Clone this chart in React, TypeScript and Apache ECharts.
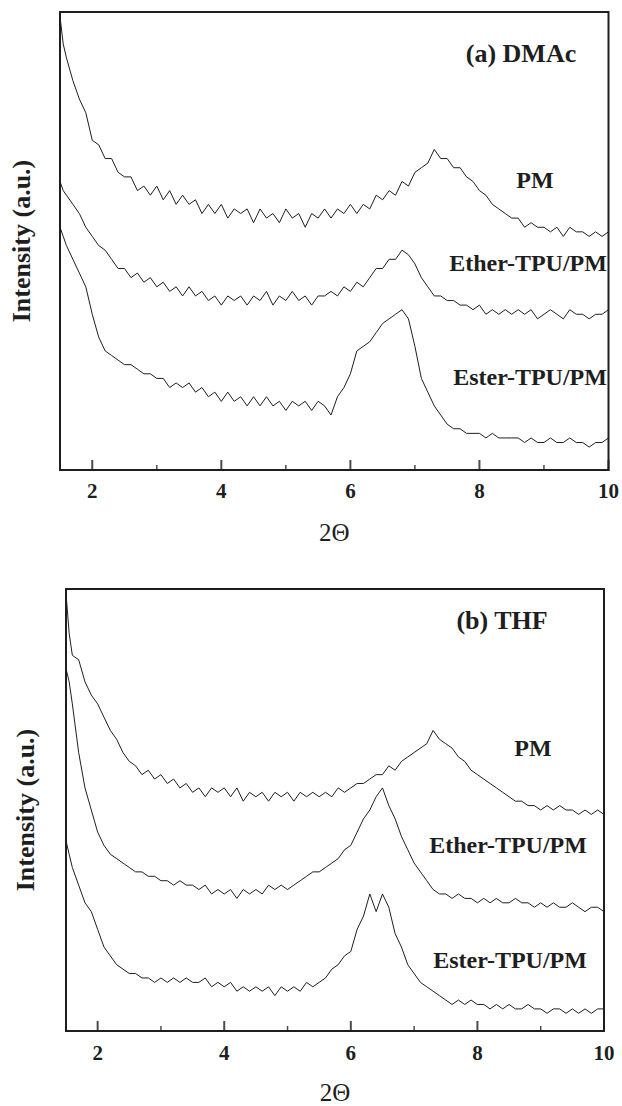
import React, { useEffect, useRef } from "react";
import * as echarts from "echarts";

// 2-theta sampling positions (shared by every curve)
const X = [
  1.5, 1.55,
  1.6, 1.7, 1.8, 1.9, 2.0, 2.1, 2.2, 2.3, 2.4, 2.5,
  2.6, 2.7, 2.8, 2.9, 3.0, 3.1, 3.2, 3.3, 3.4, 3.5,
  3.6, 3.7, 3.8, 3.9, 4.0, 4.1, 4.2, 4.3, 4.4, 4.5,
  4.6, 4.7, 4.8, 4.9, 5.0, 5.1, 5.2, 5.3, 5.4, 5.5,
  5.6, 5.7, 5.8, 5.9, 6.0, 6.1, 6.2, 6.3, 6.4, 6.5,
  6.6, 6.7, 6.8, 6.9, 7.0, 7.1, 7.2, 7.3, 7.4, 7.5,
  7.6, 7.7, 7.8, 7.9, 8.0, 8.1, 8.2, 8.3, 8.4, 8.5,
  8.6, 8.7, 8.8, 8.9, 9.0, 9.1, 9.2, 9.3, 9.4, 9.5,
  9.6, 9.7, 9.8, 9.9, 10.0,
];

// (a) DMAc — stacked intensities (a.u., 0..100 of panel height)
const PM_A = [
  99, 93,
  90, 85, 81, 78, 72, 71, 68, 68, 65, 64,
  64, 61, 62, 60, 62, 59, 61, 58, 60, 58,
  59, 56, 58, 56, 58, 55, 57, 56, 57, 54,
  57, 55, 56, 54, 57, 55, 56, 53, 56, 55,
  57, 55, 57, 56, 58, 56, 58, 57, 60, 59,
  61, 60, 63, 62, 65, 66, 67, 70, 68, 68,
  66, 66, 64, 63, 61, 60, 58, 57, 56, 55,
  55, 53, 54, 53, 53, 52, 53, 51, 53, 52,
  52, 51, 52, 51, 52,
];
const ETHER_A = [
  63, 61,
  60, 58, 56, 53, 51, 49, 48, 46, 44, 44,
  42, 43, 41, 42, 40, 41, 39, 40, 38, 40,
  38, 39, 37, 38, 36, 38, 37, 38, 36, 38,
  37, 39, 36, 38, 37, 39, 37, 38, 36, 38,
  38, 39, 38, 40, 39, 41, 40, 42, 44, 44,
  46, 46, 48, 47, 45, 42, 40, 38, 38, 37,
  37, 36, 36, 35, 36, 34, 35, 34, 35, 34,
  35, 34, 35, 33, 34, 35, 34, 33, 35, 34,
  34, 33, 34, 34, 35,
];
const ESTER_A = [
  53, 51,
  49, 46, 43, 40, 34, 29, 26, 25, 24, 23,
  23, 22, 21, 21, 20, 20, 18, 19, 18, 19,
  17, 18, 16, 17, 15, 17, 15, 16, 14, 16,
  14, 16, 14, 15, 13, 15, 14, 15, 13, 15,
  14, 12, 16, 18, 21, 26, 27, 28, 30, 32,
  33, 34, 35, 33, 27, 20, 17, 14, 12, 10,
  9, 9, 8, 8, 8, 7, 8, 7, 7, 7,
  7, 6, 7, 6, 6, 7, 6, 6, 7, 6,
  6, 5, 6, 6, 7,
];

// (b) THF
const PM_B = [
  99, 90,
  85, 84, 79, 76, 74, 71, 68, 66, 63, 61,
  60, 58, 59, 57, 58, 56, 57, 55, 56, 54,
  55, 53, 55, 54, 55, 53, 55, 52, 54, 53,
  54, 52, 54, 53, 54, 52, 54, 53, 54, 53,
  54, 53, 55, 54, 55, 56, 56, 57, 58, 58,
  60, 59, 61, 62, 63, 64, 65, 68, 66, 65,
  64, 62, 61, 59, 58, 57, 56, 55, 54, 53,
  52, 52, 51, 51, 50, 51, 50, 51, 50, 50,
  49, 50, 49, 50, 49,
];
const ETHER_B = [
  82, 79,
  74, 63, 55, 50, 45, 42, 40, 39, 38, 37,
  36, 36, 35, 35, 34, 34, 33, 34, 33, 33,
  32, 33, 31, 32, 31, 32, 30, 32, 31, 32,
  31, 33, 32, 33, 32, 33, 34, 35, 36, 36,
  37, 38, 39, 41, 42, 45, 48, 50, 53, 55,
  51, 48, 44, 41, 38, 36, 34, 32, 31, 31,
  30, 31, 30, 30, 29, 30, 29, 30, 29, 29,
  30, 29, 29, 28, 29, 28, 29, 28, 28, 29,
  28, 27, 28, 28, 27,
];
const ESTER_B = [
  43, 40,
  37, 33, 29, 27, 23, 19, 17, 15, 14, 13,
  13, 12, 12, 11, 12, 11, 12, 11, 12, 11,
  11, 12, 10, 11, 10, 11, 9, 10, 9, 10,
  9, 10, 8, 10, 9, 10, 9, 11, 10, 11,
  12, 14, 15, 17, 18, 23, 26, 31, 27, 31,
  28, 22, 19, 15, 13, 11, 10, 9, 8, 7,
  6, 7, 6, 7, 6, 6, 5, 6, 5, 6,
  5, 5, 6, 5, 5, 4, 5, 5, 4, 5,
  4, 5, 4, 5, 5,
];

const MAJOR_TICKS = [2, 4, 6, 8, 10];
const MINOR_TICKS = [3, 5, 7, 9];
const X_TITLE = "2Θ";
const Y_TITLE = "Intensity (a.u.)";
const PANEL_TITLES = ["(a) DMAc", "(b) THF"];
const CURVE_NAMES = ["PM", "Ether-TPU/PM", "Ester-TPU/PM"];

const FONT = '"Liberation Serif", "Times New Roman", serif';
const INK = "#1e1e1e";

function pairs(ys: number[]) {
  return X.map((x, i) => [x, ys[i]]);
}

// inward tick marks drawn as thin rect symbols standing on the x axis
function tickSeries(gi: number, values: number[], len: number, width: number) {
  return {
    type: "scatter",
    xAxisIndex: gi,
    yAxisIndex: gi,
    silent: true,
    clip: false,
    z: 10,
    symbol: "rect",
    symbolSize: [width, len],
    symbolOffset: [0, -len / 2],
    itemStyle: { color: INK },
    data: values.map((v) => [v, 0]),
  };
}

export default function App() {
  const ref = useRef<HTMLDivElement>(null);

  useEffect(() => {
    document.body.style.margin = "0";
    const chart = echarts.init(ref.current!, null, { renderer: "svg" });

    const grids = [
      { left: 60, top: 12, width: 550, height: 458 },
      { left: 66, top: 589, width: 538, height: 448 },
    ];
    const nameGapsY = [26, 28];
    const nameGapsX = [50, 49];
    const labelMargins = [10, 11];

    const xAxes: any[] = [];
    const yAxes: any[] = [];
    grids.forEach((_, gi) => {
      xAxes.push({
        gridIndex: gi,
        type: "value",
        min: 1.5,
        max: 10,
        position: "bottom",
        axisLine: { show: true, lineStyle: { color: INK, width: 2 } },
        axisTick: { show: false },
        axisLabel: {
          customValues: MAJOR_TICKS,
          margin: labelMargins[gi],
          fontFamily: FONT,
          fontWeight: "bold",
          fontSize: 21,
          color: INK,
        },
        splitLine: { show: false },
        name: X_TITLE,
        nameLocation: "middle",
        nameGap: nameGapsX[gi],
        nameTextStyle: { fontFamily: FONT, fontSize: 25, color: INK },
      });
      yAxes.push({
        gridIndex: gi,
        type: "value",
        min: 0,
        max: 100,
        axisLine: { show: false },
        axisTick: { show: false },
        axisLabel: { show: false },
        splitLine: { show: false },
        name: Y_TITLE,
        nameLocation: "middle",
        nameGap: nameGapsY[gi],
        nameTextStyle: {
          fontFamily: FONT,
          fontWeight: "bold",
          fontSize: 26,
          color: INK,
        },
      });
    });

    const panels = [
      [PM_A, ETHER_A, ESTER_A],
      [PM_B, ETHER_B, ESTER_B],
    ];
    const series: any[] = [];
    panels.forEach((curves, gi) => {
      curves.forEach((ys, ci) => {
        series.push({
          name: `${PANEL_TITLES[gi]} ${CURVE_NAMES[ci]}`,
          type: "line",
          xAxisIndex: gi,
          yAxisIndex: gi,
          data: pairs(ys),
          showSymbol: false,
          symbol: "none",
          lineStyle: { color: INK, width: 1 },
          silent: true,
        });
      });
      series.push(tickSeries(gi, MAJOR_TICKS, 10, 2));
      series.push(tickSeries(gi, MINOR_TICKS, 5, 1.5));
    });

    const label = (text: string, x: number, y: number, size: number) => ({
      type: "text",
      x,
      y,
      silent: true,
      style: {
        text,
        fontFamily: FONT,
        fontWeight: "bold",
        fontSize: size,
        fill: INK,
        align: "center",
        verticalAlign: "middle",
      },
    });

    chart.setOption({
      animation: false,
      backgroundColor: "#ffffff",
      grid: grids.map((g) => ({
        ...g,
        show: true,
        borderColor: INK,
        borderWidth: 2,
        backgroundColor: "transparent",
      })),
      xAxis: xAxes,
      yAxis: yAxes,
      series,
      graphic: [
        label(PANEL_TITLES[0], 521, 53, 26),
        label(CURVE_NAMES[0], 535, 180, 24),
        label(CURVE_NAMES[1], 528, 263, 24),
        label(CURVE_NAMES[2], 530, 377, 24),
        label(PANEL_TITLES[1], 502, 620, 26),
        label(CURVE_NAMES[0], 533, 748, 24),
        label(CURVE_NAMES[1], 508, 845, 24),
        label(CURVE_NAMES[2], 510, 960, 24),
      ],
    });

    return () => chart.dispose();
  }, []);

  return <div ref={ref} style={{ width: 622, height: 1106 }} />;
}
